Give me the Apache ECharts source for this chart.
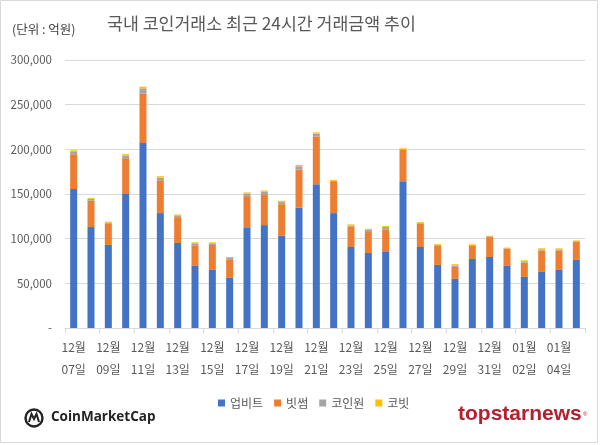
<!DOCTYPE html>
<html>
<head>
<meta charset="utf-8">
<script src="https://cdn.jsdelivr.net/npm/echarts@6/dist/echarts.min.js"></script>
<style>
html,body{margin:0;padding:0;background:#fff;}
#chart{width:600px;height:445px;}
</style>
</head>
<body>
<div id="chart"></div>
<script>
var months = ['12월','12월','12월','12월','12월','12월','12월','12월','12월','12월','12월','12월','12월','12월','12월','12월','12월','12월','12월','12월','12월','12월','12월','12월','12월','01월','01월','01월','01월','01월'];
var days = ['07일','08일','09일','10일','11일','12일','13일','14일','15일','16일','17일','18일','19일','20일','21일','22일','23일','24일','25일','26일','27일','28일','29일','30일','31일','01일','02일','03일','04일','05일'];
var upbit   = [155500,113000,93000,150000,207000,128600,95200,69500,65000,56100,111900,115200,103300,134600,160900,128600,90700,84000,85100,164300,90700,70600,55000,77300,79500,69500,57200,62800,65000,76200];
var bithumb = [39000,29400,24200,40100,55300,36800,28900,23100,27900,20800,35700,34600,35300,42700,53600,34900,22700,23400,25300,35300,26400,22000,13400,14900,22300,19000,16000,23800,21600,20100];
var coinone = [3300,2200,800,3000,6000,3000,1900,2200,1900,1500,2900,3000,2300,3700,2900,1200,1500,2600,2600,700,700,700,1500,700,800,700,1500,1500,1500,700];
var korbit  = [1200,1100,1100,1500,1900,1500,1100,1100,1100,1100,1200,1100,1500,1500,1500,1100,1100,1100,1100,800,800,700,1500,800,700,800,1100,1100,1100,1100];
var seriesNames = ['업비트','빗썸','코인원','코빗'];
var yTicks = {min:0, max:300000, interval:50000};

var categories = months.map(function(m,i){return m + '\n' + days[i];});
var FONT = '"Noto Sans CJK KR", "Noto Sans", sans-serif';
var colors = ['#4472C4','#ED7D31','#A5A5A5','#FFC000'];
var dataSets = [upbit, bithumb, coinone, korbit];

var chart = echarts.init(document.getElementById('chart'), null, {renderer:'canvas'});
chart.setOption({
  backgroundColor:'#ffffff',
  animation:false,
  textStyle:{fontFamily:FONT},
  grid:{left:65, right:15, top:60, bottom:117},
  legend:{
    data:seriesNames, left:213, top:392, itemWidth:7, itemHeight:7, itemGap:11,
    icon:'rect',
    textStyle:{fontSize:12, color:'#595959', fontFamily:FONT}
  },
  xAxis:{
    type:'category', data:categories,
    axisLine:{lineStyle:{color:'#d9d9d9'}},
    axisTick:{show:true, interval:1, length:5, lineStyle:{color:'#d9d9d9'}},
    axisLabel:{interval:1, fontSize:12, color:'#595959', lineHeight:22, margin:8, fontFamily:FONT}
  },
  yAxis:{
    type:'value', min:yTicks.min, max:yTicks.max, interval:yTicks.interval,
    axisLine:{show:false}, axisTick:{show:false},
    splitLine:{lineStyle:{color:'#d9d9d9'}},
    axisLabel:{fontSize:11.5, color:'#595959', margin:13, fontFamily:FONT,
      formatter:function(v){return v===0?'-':v.toLocaleString('en-US');}}
  },
  series: seriesNames.map(function(n,i){
    return {name:n, type:'bar', stack:'total', barWidth:7, data:dataSets[i],
      itemStyle:{color:colors[i]}};
  }),
  graphic:[
    {type:'rect', shape:{x:0.5,y:0.5,width:597,height:442}, style:{fill:'none', stroke:'#d9d9d9', lineWidth:1}, silent:true},
    {type:'text', left:12, top:23, style:{text:'(단위 : 억원)', fontSize:12.5, fill:'#404040', fontFamily:FONT}},
    {type:'text', left:107, top:15, style:{text:'국내 코인거래소 최근 24시간 거래금액 추이', fontSize:17.3, fill:'#595959', fontFamily:FONT}},
    {type:'circle', shape:{cx:34, cy:418, r:8.5}, style:{fill:'none', stroke:'#222', lineWidth:2.4}},
    {type:'polyline', shape:{points:[[29,422],[31.5,414],[34,419],[36.5,414],[39,422]]}, style:{fill:'none', stroke:'#222', lineWidth:2}},
    {type:'text', left:51, top:410, style:{text:'CoinMarketCap', fontSize:13.5, fontWeight:'bold', fill:'#222', fontFamily:'"Open Sans", sans-serif'}},
    {type:'text', left:458, top:404, style:{text:'topstarnews', fontSize:21, fontWeight:'bold', fill:'#B3212F', fontFamily:'"Liberation Sans", Arial, sans-serif'}},
    {type:'text', left:583, top:411, style:{text:'®', fontSize:6, fill:'#B3212F', fontFamily:'"Liberation Sans", Arial, sans-serif'}}
  ]
});
</script>
</body>
</html>
